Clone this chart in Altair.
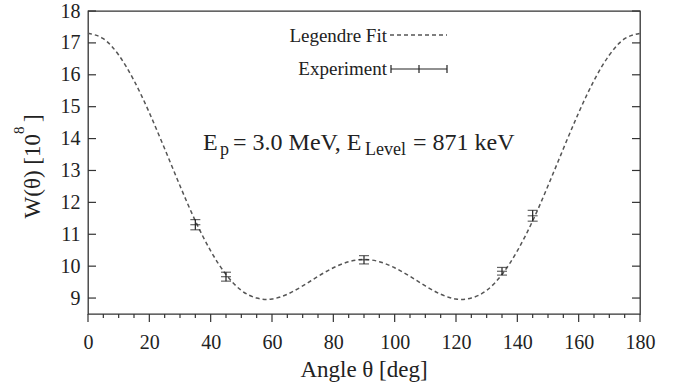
import altair as alt
import pandas as pd

# ---- data ----
fit_angle = [0, 5, 10, 15, 20, 25, 30, 35, 40, 45, 50, 55, 60, 65, 70, 75, 80, 85, 90,
             95, 100, 105, 110, 115, 120, 125, 130, 135, 140, 145, 150, 155, 160, 165, 170, 175, 180]
fit_value = [17.30, 17.13, 16.62, 15.82, 14.81, 13.68, 12.52, 11.42, 10.48, 9.74, 9.24, 9.00, 8.97,
             9.12, 9.38, 9.68, 9.95, 10.14, 10.21,
             10.14, 9.95, 9.68, 9.38, 9.12, 8.97, 9.00, 9.24, 9.74, 10.48, 11.42, 12.52, 13.68,
             14.81, 15.82, 16.62, 17.13, 17.30]

exp_angle = [35, 45, 90, 135, 145]
exp_value = [11.30, 9.67, 10.20, 9.84, 11.58]
exp_error = [0.16, 0.14, 0.13, 0.12, 0.17]

x_major = [0, 20, 40, 60, 80, 100, 120, 140, 160, 180]
x_minor = [5, 10, 15, 25, 30, 35, 45, 50, 55, 65, 70, 75, 85, 90, 95, 105, 110, 115,
           125, 130, 135, 145, 150, 155, 165, 170, 175]
y_ticks = [9, 10, 11, 12, 13, 14, 15, 16, 17, 18]

W, H = 552, 303
FONT = "Liberation Serif"
TXT = "#222222"

fit_df = pd.DataFrame({"angle": fit_angle, "value": fit_value})
exp_df = pd.DataFrame({"angle": exp_angle, "value": exp_value, "err": exp_error})
exp_df["lo"] = exp_df["value"] - exp_df["err"]
exp_df["hi"] = exp_df["value"] + exp_df["err"]
one = pd.DataFrame({"k": [0]})

xs = alt.Scale(domain=[0, 180], nice=False, zero=False)
ys = alt.Scale(domain=[8.5, 18], nice=False, zero=False)
AX = alt.Axis(values=x_major, ticks=False, tickSize=0, domain=False, grid=False, title=None,
              labelFont=FONT, labelFontSize=20, labelColor=TXT, labelPadding=18,
              labelFlush=False, labelOverlap=False)
AY = alt.Axis(values=y_ticks, ticks=False, tickSize=0, domain=False, grid=False, title=None,
              labelFont=FONT, labelFontSize=20, labelColor=TXT, labelPadding=8,
              labelFlush=False, labelOverlap=False)


def X(f):
    return alt.X(f"{f}:Q", scale=xs, axis=AX, title=None)


def Y(f):
    return alt.Y(f"{f}:Q", scale=ys, axis=AY, title=None)


curve = alt.Chart(fit_df).mark_line(
    interpolate="natural", strokeDash=[4, 3], color="#555555", strokeWidth=1.5
).encode(x=X("angle"), y=Y("value"))

bars = alt.Chart(exp_df).mark_rule(color=TXT, strokeWidth=1.2).encode(
    x=X("angle"), y=Y("lo"), y2="hi:Q")
caps = []
for fld in ["lo", "hi", "value"]:
    caps.append(alt.Chart(exp_df).mark_tick(
        orient="horizontal", size=10, thickness=1.2, color=TXT
    ).encode(x=X("angle"), y=Y(fld)))

yt_df = pd.DataFrame({"t": y_ticks})
ytick_l = alt.Chart(yt_df).mark_rule(color="#333333", strokeWidth=1.2).encode(
    y=Y("t"), x=alt.value(0), x2=alt.value(8))
ytick_r = alt.Chart(yt_df).mark_rule(color="#333333", strokeWidth=1.2).encode(
    y=Y("t"), x=alt.value(W - 8), x2=alt.value(W))

xmaj = alt.Chart(pd.DataFrame({"t": x_major})).mark_rule(color="#333333", strokeWidth=1.2).encode(
    x=X("t"), y=alt.value(H), y2=alt.value(H + 8))
xmin = alt.Chart(pd.DataFrame({"t": x_minor})).mark_rule(color="#333333", strokeWidth=1.2).encode(
    x=X("t"), y=alt.value(H), y2=alt.value(H + 4))


def txt(s, x, y, size, align="left", angle=0):
    kw = dict(text=s, align=align, baseline="alphabetic", font=FONT, fontSize=size, color=TXT)
    if angle:
        kw["angle"] = angle
    return alt.Chart(one).mark_text(**kw).encode(x=alt.value(x), y=alt.value(y))


def rule(x1, x2, y1, y2, dash=None, color=TXT, w=1.2):
    kw = dict(color=color, strokeWidth=w)
    if dash:
        kw["strokeDash"] = dash
    return alt.Chart(one).mark_rule(**kw).encode(
        x=alt.value(x1), x2=alt.value(x2), y=alt.value(y1), y2=alt.value(y2))


L, T = 88, 11
texts = [
    # annotation
    txt("E", 203 - L, 150 - T, 24),
    txt("p", 220 - L, 155 - T, 18),
    txt("= 3.0 MeV, E", 233 - L, 150 - T, 24),
    txt("Level", 365 - L, 155 - T, 18),
    txt("= 871 keV", 413 - L, 150 - T, 24),
    # legend
    txt("Legendre Fit", 387 - L, 42 - T, 19, align="right"),
    txt("Experiment", 387 - L, 75 - T, 19, align="right"),
    rule(390 - L, 447 - L, 35 - T, 35 - T, dash=[4, 3], color="#555555", w=1.3),
    rule(391 - L, 447 - L, 69 - T, 69 - T),
    rule(391 - L, 391 - L, 65 - T, 73 - T),
    rule(447 - L, 447 - L, 65 - T, 73 - T),
    rule(419 - L, 419 - L, 65 - T, 73 - T),
    # axis titles
    txt("Angle θ [deg]", 364 - L, 377 - T, 23, align="center"),
    txt("W(θ) [10", 40 - L, 134 - T, 23, align="right", angle=270),
    txt("8", 24 - L, 134 - T, 15, align="left", angle=270),
    txt("]", 40 - L, 122 - T, 23, align="left", angle=270),
]

chart = alt.layer(curve, bars, *caps, ytick_l, ytick_r, xmaj, xmin, *texts).properties(
    width=W, height=H,
    autosize=alt.AutoSizeParams(type="none"),
    padding={"left": L, "top": T, "right": 684 - L - W, "bottom": 390 - T - H},
    background="white",
).configure_view(
    stroke="#333333", strokeWidth=1.3
)

chart.save("out.html", embed_options={"renderer": "svg", "actions": False})
